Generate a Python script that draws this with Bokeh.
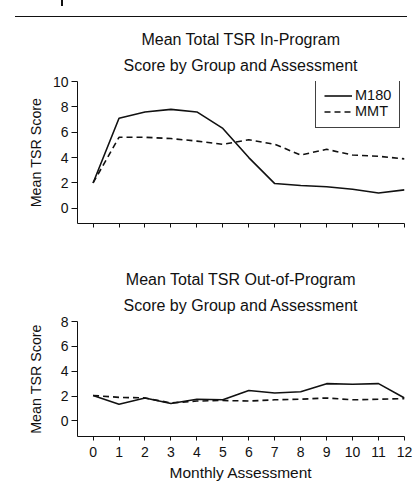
from bokeh.embed import file_html
from bokeh.layouts import column
from bokeh.models import Div, Legend, LegendItem, FixedTicker, Title
from bokeh.plotting import figure
from bokeh.resources import INLINE

# Monthly assessments and mean total TSR scores per group
months = list(range(13))
in_program_m180 = [2.0, 7.1, 7.6, 7.8, 7.6, 6.3, 4.0, 1.95, 1.8, 1.7, 1.5, 1.2, 1.45]
in_program_mmt = [2.0, 5.6, 5.6, 5.5, 5.3, 5.05, 5.4, 5.05, 4.2, 4.65, 4.2, 4.1, 3.9]
out_program_m180 = [2.05, 1.35, 1.85, 1.4, 1.75, 1.7, 2.45, 2.25, 2.35, 3.0, 2.95, 3.0, 1.85]
out_program_mmt = [2.05, 1.9, 1.85, 1.45, 1.6, 1.65, 1.6, 1.7, 1.75, 1.85, 1.7, 1.75, 1.8]

group_names = ["M180", "MMT"]
in_ticks = [0, 2, 4, 6, 8, 10]
out_ticks = [0, 2, 4, 6, 8]

FONT = "Liberation Sans"
INK = "#111111"
DASH = "6 4"


def style_axes(p, yticks, show_x_labels, ylabel_standoff):
    p.outline_line_color = None
    p.grid.visible = False
    for ax in (p.xaxis[0], p.yaxis[0]):
        ax.axis_line_color = INK
        ax.axis_line_width = 1
        ax.major_tick_line_color = INK
        ax.major_tick_in = 0
        ax.minor_tick_line_color = None
        ax.major_label_text_font = FONT
        ax.major_label_text_font_size = "14px"
        ax.major_label_text_color = INK
        ax.axis_label_text_font = FONT
        ax.axis_label_text_font_style = "normal"
        ax.axis_label_text_color = INK
    p.xaxis[0].ticker = FixedTicker(ticks=months)
    p.yaxis[0].ticker = FixedTicker(ticks=yticks)
    p.xaxis[0].major_tick_out = 4
    p.yaxis[0].major_tick_out = 6
    p.yaxis[0].major_label_standoff = 3
    p.xaxis[0].major_label_standoff = 6
    p.yaxis[0].axis_label = "Mean TSR Score"
    p.yaxis[0].axis_label_text_font_size = "14.3px"
    p.yaxis[0].axis_label_standoff = ylabel_standoff
    if not show_x_labels:
        p.xaxis[0].major_label_text_color = None


def add_titles(p, first, second, offsets):
    # panels listed in "above" stack outward from the frame
    p.add_layout(Title(text=second, align="center", offset=offsets[1], standoff=16,
                       text_font=FONT, text_font_size="16px", text_font_style="normal",
                       text_color=INK), "above")
    p.add_layout(Title(text=first, align="center", offset=offsets[0], standoff=-3,
                       text_font=FONT, text_font_size="16px", text_font_style="normal",
                       text_color=INK), "above")


# Running header rule across the page
header = Div(text='<div style="position:absolute;left:46px;top:0;width:2px;height:6px;background:#111"></div>',
             width=392, height=17, margin=(0, 0, 0, 15),
             styles={"border-bottom": "1.5px solid #111", "box-sizing": "border-box",
                     "position": "relative"})

# In-program panel
top = figure(width=414, height=233, output_backend="svg", toolbar_location=None,
             x_range=(-0.6, 12), y_range=(-1.2, 10),
             min_border_top=64, min_border_bottom=27, min_border_left=77, min_border_right=10)
style_axes(top, in_ticks, show_x_labels=False, ylabel_standoff=6)
r1 = top.line(months, in_program_m180, line_color=INK, line_width=1.6)
r2 = top.line(months, in_program_mmt, line_color=INK, line_width=1.6, line_dash=DASH)
add_titles(top, "Mean Total TSR In-Program", "Score by Group and Assessment", (3, 6))

legend = Legend(items=[LegendItem(label=group_names[0], renderers=[r1]),
                       LegendItem(label=group_names[1], renderers=[r2])],
                location=(238, 95), orientation="vertical",
                glyph_width=28, glyph_height=15, label_height=15, label_standoff=3,
                label_width=30, spacing=0, padding=8, margin=0,
                label_text_font=FONT, label_text_font_size="14.5px", label_text_color=INK,
                border_line_color=INK, border_line_width=1, border_line_alpha=0.8,
                background_fill_color="white", background_fill_alpha=1)
top.add_layout(legend)

# Out-of-program panel
bottom = figure(width=414, height=233, output_backend="svg", toolbar_location=None,
                x_range=(-0.6, 12), y_range=(-1.25, 8),
                min_border_top=71, min_border_bottom=47, min_border_left=77, min_border_right=10)
style_axes(bottom, out_ticks, show_x_labels=True, ylabel_standoff=14)
bottom.line(months, out_program_m180, line_color=INK, line_width=1.6)
bottom.line(months, out_program_mmt, line_color=INK, line_width=1.6, line_dash=DASH)
add_titles(bottom, "Mean Total TSR Out-of-Program", "Score by Group and Assessment", (7, 7))
bottom.xaxis[0].axis_label = "Monthly Assessment"
bottom.xaxis[0].axis_label_text_font_size = "15.5px"
bottom.xaxis[0].axis_label_standoff = 4

page = column(header, top, bottom, spacing=0)
open("out.html", "w").write(file_html(page, INLINE))
